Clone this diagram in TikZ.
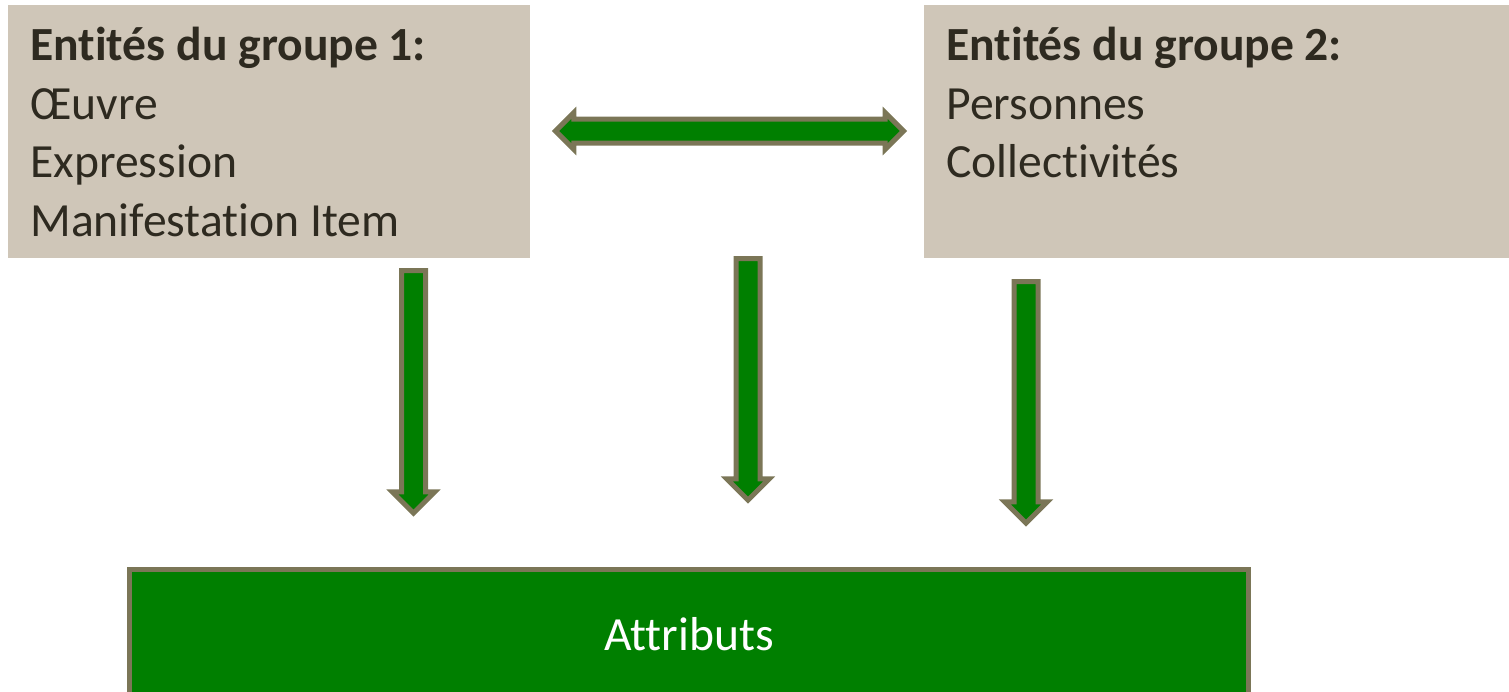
\documentclass[tikz,border=0pt]{standalone}
\usepackage{fontspec}
\setmainfont{Carlito}[Ligatures=NoCommon]
\usetikzlibrary{shapes.arrows}
\definecolor{beige}{HTML}{CFC6B8}
\definecolor{fgreen}{HTML}{007F00}
\definecolor{olivegray}{HTML}{7B7657}
\definecolor{ink}{HTML}{2E2A20}
\begin{document}
\begin{tikzpicture}[x=0.5pt,y=-0.5pt,
        ent/.style={fill=beige,inner sep=0pt,anchor=north west},
        txt/.style={text=ink,font=\fontsize{23.8}{29.25}\selectfont,align=left,
            anchor=north west,inner sep=0pt},
        down/.style={single arrow,draw=olivegray,fill=fgreen,line width=2.5pt,
            inner sep=4.75pt,single arrow head extend=4.6pt,rotate=-90,anchor=tail}]
\clip (0,0) rectangle (1509,691);

\node[ent,minimum width=261pt,minimum height=126.5pt] (g1) at (8,5) {};
\node[ent,minimum width=300pt,minimum height=126.5pt] (g2) at (924,5) {};
\node[txt] (t1) at (30,27) {\textbf{Entités du groupe 1:}\\Œuvre\\Expression\\Manifestation Item};
\node[txt] (t2) at (946,27) {\textbf{Entités du groupe 2:}\\Personnes\\Collectivités};

\node[double arrow,draw=olivegray,fill=fgreen,line width=2.5pt,inner sep=4.75pt,
    double arrow head extend=3.2pt,minimum height=174pt] (rel) at (729.5,131) {};

\node[down,minimum height=121.3pt] (a1) at (413.5,268) {};
\node[down,minimum height=120.8pt] (a2) at (748,256) {};
\node[down,minimum height=120.8pt] (a3) at (1026,279) {};

\node[draw=olivegray,fill=fgreen,line width=2.5pt,minimum width=559.5pt,minimum height=65pt,
    text=white,font=\fontsize{23.8}{28}\selectfont] (attr) at (689,634) {Attributs};
\end{tikzpicture}
\end{document}
